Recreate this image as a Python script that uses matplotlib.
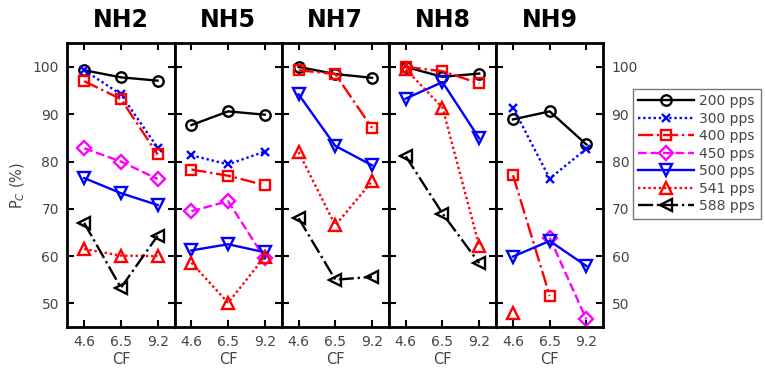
import numpy as np
import matplotlib.pyplot as plt

# CF values (categorical positions) and panels
cf_labels = ['4.6', '6.5', '9.2']
panels = ['NH2', 'NH5', 'NH7', 'NH8', 'NH9']
rates = ['200 pps', '300 pps', '400 pps', '450 pps', '500 pps', '541 pps', '588 pps']

nan = np.nan
# percent correct per panel, one row per rate (nan = not measured)
nh2 = [[99.3, 97.8, 97.1],
       [99.3, 94.2, 82.9],
       [97.0, 93.2, 81.5],
       [82.8, 80.0, 76.3],
       [76.5, 73.3, 70.8],
       [61.5, 60.1, 60.0],
       [67.0, 53.3, 64.3]]
nh5 = [[87.7, 90.6, 89.9],
       [81.3, 79.4, 82.1],
       [78.3, 77.0, 75.0],
       [69.5, 71.6, 59.5],
       [61.2, 62.5, 60.8],
       [58.6, 50.1, 59.9],
       [nan, nan, nan]]
nh7 = [[100.0, 98.5, 97.7],
       [nan, nan, nan],
       [99.3, 98.5, 87.1],
       [nan, nan, nan],
       [94.2, 83.3, 79.2],
       [82.0, 66.5, 75.8],
       [68.0, 55.0, 55.6]]
nh8 = [[100.0, 97.9, 98.6],
       [nan, nan, nan],
       [100.0, 99.1, 96.5],
       [nan, nan, nan],
       [93.3, 96.8, 84.9],
       [99.5, 91.4, 62.2],
       [81.1, 69.0, 58.5]]
nh9 = [[88.9, 90.6, 83.6],
       [91.4, 76.4, 82.7],
       [77.1, 51.6, nan],
       [nan, 63.9, 46.6],
       [59.9, 63.2, 57.9],
       [48.0, nan, nan],
       [nan, nan, nan]]
data = [nh2, nh5, nh7, nh8, nh9]

colors = ['black', 'blue', 'red', 'magenta', 'blue', 'red', 'black']
styles = ['-', (0, (1, 1.2)), '-.', '--', '-', (0, (1, 1.2)), '-.']
markers = ['o', 'x', 's', 'D', 'v', '^', '<']
msizes = [7.5, 5.5, 6.5, 7, 8, 8, 8]

plt.rcParams['font.family'] = ['DejaVu Sans']
fig = plt.figure(figsize=(7.65, 3.7), dpi=100)
left, right, bottom, top = 0.088, 0.7886, 0.1162, 0.883
w = (right - left) / 5
x = np.arange(1, 4)

axes = []
for i, name in enumerate(panels):
    ax = fig.add_axes([left + i * w, bottom, w, top - bottom])
    axes.append(ax)
    for j in range(len(rates)):
        y = np.array(data[i][j], dtype=float)
        ax.plot(x, y, color=colors[j], linestyle=styles[j], linewidth=1.7,
                marker=markers[j], markersize=msizes[j], markerfacecolor='none',
                markeredgecolor=colors[j], markeredgewidth=1.7, label=rates[j])
    ax.set_xlim(0.54, 3.46)
    ax.set_ylim(45, 105)
    ax.set_xticks(x)
    ax.set_xticklabels(cf_labels)
    ax.set_yticks([50, 60, 70, 80, 90, 100])
    ax.tick_params(direction='in', length=5, width=1.5, colors='black',
                   labelcolor='#444444', labelsize=10, top=True, right=True, pad=6)
    for sp in ax.spines.values():
        sp.set_linewidth(2)
    ax.set_title(name, fontsize=17, fontweight='bold', pad=12)
    ax.set_xlabel('CF', fontsize=10.5, color='#444444', labelpad=2)
    if i == 0:
        ax.set_ylabel('P$_C$ (%)', fontsize=10.5, color='#444444')
    elif i == 4:
        ax.tick_params(labelleft=False, labelright=True)
    else:
        ax.tick_params(labelleft=False)

handles, labels = axes[0].get_legend_handles_labels()
leg = fig.legend(handles, labels, loc='upper left', bbox_to_anchor=(0.827, 0.76),
                 borderaxespad=0, fontsize=10, frameon=True, fancybox=False,
                 edgecolor='#555555', handlelength=4.0, borderpad=0.4,
                 labelspacing=0.25, handletextpad=0.4)
leg.get_frame().set_linewidth(1.0)
for t in leg.get_texts():
    t.set_color('#444444')

fig.savefig('out.png', dpi=100)
